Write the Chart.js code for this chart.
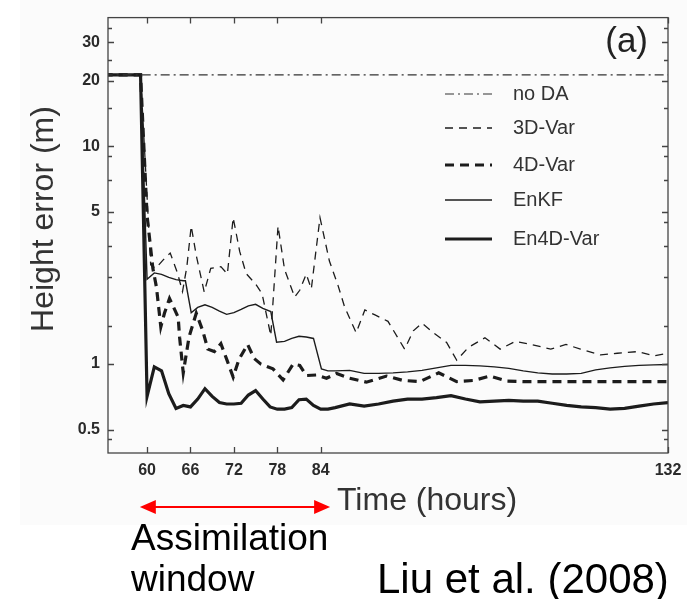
<!DOCTYPE html>
<html>
<head>
<meta charset="utf-8">
<script src="https://cdn.jsdelivr.net/npm/chart.js@4.4.0/dist/chart.umd.min.js"></script>
<style>
html, body { margin: 0; padding: 0; background: #fff; }
canvas { display: block; }
</style>
</head>
<body>
<canvas id="chartHeightError" width="695" height="599"></canvas>
<script>
// series names, in legend order
var seriesNames = ["no DA", "3D-Var", "4D-Var", "EnKF", "En4D-Var"];

// axis ticks
var xTicks = [60, 66, 72, 78, 84, 132];
var yTicks = [0.5, 1, 5, 10, 20, 30];
var yMinorTicks = [0.45, 1.5, 2.5, 3.5, 4.5, 7, 9, 15, 25, 35];

// height error (m) against forecast time (hours)
var noDAHours = [54, 132];
var noDAErr   = [21.3, 21.3];

var var3dHours = [54, 59.1, 60.5, 61.2, 62.2, 63.2, 64.2, 64.9, 65.5, 66.1, 66.8, 67.9, 68.8, 70.2, 71.1, 71.9, 72.8, 73.7,
	75, 75.9, 77.1, 78.1, 79, 80.4, 81.1, 82, 82.7, 83.9, 85.2, 86.4, 87.3, 88.9, 90.1, 91.5, 93.3, 95.6, 96.8, 98, 99.6,
	101.4, 102.8, 104.4, 106.7, 108.8, 110.9, 113, 115.8, 117.9, 119.9, 122.7, 125, 127.8, 130.1, 132];
var var3dErr   = [21.3, 21.3, 2.85, 2.75, 3.0, 3.23, 2.62, 2.15, 2.8, 4.3, 3.15, 2.14, 2.75, 2.8, 2.59, 4.7, 3.29, 2.6,
	2.33, 2.1, 1.35, 4.3, 2.72, 2.03, 2.18, 2.59, 2.21, 4.7, 2.97, 2.29, 1.83, 1.39, 1.77, 1.68, 1.57, 1.17, 1.42, 1.54, 1.39,
	1.255, 1.04, 1.19, 1.32, 1.17, 1.27, 1.23, 1.17, 1.23, 1.17, 1.10, 1.12, 1.14, 1.09, 1.12];

var var4dHours = [54, 59.1, 60, 60.8, 61.3, 61.9, 62.4, 63.1, 64.3, 64.5, 65, 65.8, 66.8, 67.7, 68.4, 69.3, 70.2, 71.1, 71.9,
	72.7, 73.9, 74.8, 75.7, 77.4, 78.8, 80.2, 81.1, 82, 83.4, 84.8, 86.2, 88, 90.3, 93.1, 95.4, 97.7, 100.3, 102.8, 105.1,
	107.4, 109.7, 112, 132];
var var4dErr   = [21.3, 21.3, 4.8, 2.75, 2.25, 1.48, 1.71, 2.0, 1.64, 1.32, 0.91, 1.33, 1.71, 1.42, 1.17, 1.14, 1.24, 1.03, 0.87,
	1.05, 1.23, 1.06, 1.0, 0.95, 0.845, 1.0, 0.985, 0.885, 0.89, 0.86, 0.905, 0.86, 0.825, 0.88, 0.84, 0.83, 0.91, 0.83, 0.84,
	0.88, 0.835, 0.83, 0.83];

var enkfHours = [54, 59.1, 60, 61, 62, 63, 64, 65, 65.3, 66.1, 67, 68, 69, 70, 71, 72, 73, 74, 75, 76, 77.1, 77.9, 79, 80,
	81, 82, 83, 84.1, 85, 86, 88, 90, 92, 94, 96, 98, 100, 102, 104, 106, 108, 110, 112, 114, 116, 118, 120, 122, 124, 126,
	128, 130, 132];
var enkfErr   = [21.3, 21.3, 2.45, 2.62, 2.58, 2.5, 2.44, 2.41, 2.41, 1.72, 1.82, 1.87, 1.82, 1.75, 1.69, 1.72, 1.78, 1.85, 1.88,
	1.8, 1.74, 1.26, 1.27, 1.31, 1.34, 1.33, 1.31, 0.95, 0.93, 0.93, 0.935, 0.905, 0.905, 0.91, 0.92, 0.935, 0.96, 0.985,
	0.985, 0.98, 0.97, 0.955, 0.93, 0.91, 0.9, 0.9, 0.905, 0.94, 0.96, 0.975, 0.985, 0.99, 0.995];

var en4dHours = [54, 59.1, 60, 61, 62, 63, 64, 65, 66, 67, 68, 69, 70, 71, 72, 73, 74, 75, 76, 77, 78, 79, 80, 81, 82, 83,
	84, 85, 86, 88, 90, 92, 94, 96, 98, 100, 102, 104, 106, 108, 110, 112, 114, 116, 118, 120, 122, 124, 126, 128, 130, 132];
var en4dErr   = [21.3, 21.3, 0.71, 0.97, 0.93, 0.73, 0.625, 0.645, 0.635, 0.69, 0.77, 0.71, 0.665, 0.655, 0.655, 0.66, 0.72,
	0.755, 0.69, 0.635, 0.62, 0.62, 0.63, 0.685, 0.69, 0.645, 0.62, 0.62, 0.63, 0.655, 0.64, 0.655, 0.675, 0.69, 0.69, 0.70,
	0.715, 0.69, 0.67, 0.675, 0.68, 0.675, 0.675, 0.66, 0.645, 0.635, 0.63, 0.62, 0.625, 0.64, 0.655, 0.665];

var inkColor = "#1c1c1c";
var textColor = "#333";

function toPoints(hours, errs) {
	return hours.map(function(h, i) { return { x: h, y: errs[i] }; });
}

function makeSet(label, hours, errs, width, dash, color) {
	return {
		label: label,
		data: toPoints(hours, errs),
		borderColor: color || inkColor,
		borderWidth: width,
		borderDash: dash,
		pointRadius: 0,
		tension: 0,
		fill: false
	};
}

// inward ticks on all four sides, plot box, legend and annotations
var frame = {
	id: "frame",
	beforeDraw: function(chart) {
		var ctx = chart.ctx;
		ctx.save();
		ctx.fillStyle = "#fff";
		ctx.fillRect(0, 0, chart.width, chart.height);
		ctx.fillStyle = "#fbfbfb";
		ctx.fillRect(20, 0, 667, 525);
		ctx.restore();
	},
	afterDraw: function(chart) {
		var ctx = chart.ctx;
		var a = chart.chartArea;
		var xs = chart.scales.x, ys = chart.scales.y;
		ctx.save();

		ctx.strokeStyle = "#444";
		ctx.lineWidth = 1.3;
		ctx.strokeRect(a.left, a.top, a.right - a.left, a.bottom - a.top);

		ctx.beginPath();
		xTicks.forEach(function(v) {
			var px = Math.round(xs.getPixelForValue(v)) + 0.5;
			ctx.moveTo(px, a.bottom); ctx.lineTo(px, a.bottom - 6);
			ctx.moveTo(px, a.top); ctx.lineTo(px, a.top + 6);
		});
		yTicks.forEach(function(v) {
			var py = Math.round(ys.getPixelForValue(v)) + 0.5;
			ctx.moveTo(a.left, py); ctx.lineTo(a.left + 6, py);
			ctx.moveTo(a.right, py); ctx.lineTo(a.right - 6, py);
		});
		yMinorTicks.forEach(function(v) {
			var py = Math.round(ys.getPixelForValue(v)) + 0.5;
			ctx.moveTo(a.left, py); ctx.lineTo(a.left + 4, py);
			ctx.moveTo(a.right, py); ctx.lineTo(a.right - 4, py);
		});
		ctx.stroke();

		// legend inside the plot
		var rowY = [94, 128, 165, 200, 239];
		ctx.font = "20px 'Liberation Sans', Arial, sans-serif";
		ctx.textBaseline = "middle";
		chart.data.datasets.forEach(function(ds, i) {
			ctx.beginPath();
			ctx.strokeStyle = ds.borderColor;
			ctx.lineWidth = ds.borderWidth;
			ctx.setLineDash(ds.borderDash || []);
			ctx.moveTo(445, rowY[i]); ctx.lineTo(492, rowY[i]);
			ctx.stroke();
			ctx.setLineDash([]);
			ctx.fillStyle = textColor;
			ctx.fillText(ds.label, 513, rowY[i]);
		});

		ctx.fillStyle = "#222";
		ctx.font = "35px 'Liberation Sans', Arial, sans-serif";
		ctx.textBaseline = "alphabetic";
		ctx.textAlign = "right";
		ctx.fillText("(a)", 648, 52);

		// axis titles
		ctx.fillStyle = textColor;
		ctx.textAlign = "left";
		ctx.font = "32px 'Liberation Sans', Arial, sans-serif";
		ctx.fillText("Time (hours)", 337, 510);
		ctx.save();
		ctx.translate(53, 219);
		ctx.rotate(-Math.PI / 2);
		ctx.textAlign = "center";
		ctx.fillText("Height error (m)", 0, 0);
		ctx.restore();

		// assimilation window arrow
		var x0 = xs.getPixelForValue(59), x1 = xs.getPixelForValue(85.3), ay = 507;
		ctx.strokeStyle = "#f00";
		ctx.fillStyle = "#f00";
		ctx.lineWidth = 2;
		ctx.beginPath();
		ctx.moveTo(x0 + 10, ay); ctx.lineTo(x1 - 10, ay);
		ctx.stroke();
		ctx.beginPath();
		ctx.moveTo(x0, ay); ctx.lineTo(x0 + 16, ay - 7); ctx.lineTo(x0 + 16, ay + 7); ctx.closePath();
		ctx.moveTo(x1, ay); ctx.lineTo(x1 - 16, ay - 7); ctx.lineTo(x1 - 16, ay + 7); ctx.closePath();
		ctx.fill();

		ctx.fillStyle = "#000";
		ctx.font = "37px 'Liberation Sans', Arial, sans-serif";
		ctx.fillText("Assimilation", 131, 550);
		ctx.fillText("window", 131, 591);
		ctx.font = "42px 'Liberation Sans', Arial, sans-serif";
		ctx.fillText("Liu et al. (2008)", 377, 593);
		ctx.restore();
	}
};

function Init() {
	var tickFont = { family: "'Liberation Sans', Arial, sans-serif", size: 16, weight: "bold" };
	new Chart(document.getElementById("chartHeightError").getContext("2d"), {
		type: "line",
		data: {
			datasets: [
				makeSet(seriesNames[0], noDAHours, noDAErr, 1.2, [9, 4, 2, 4], "#333"),
				makeSet(seriesNames[1], var3dHours, var3dErr, 1.3, [8, 6]),
				makeSet(seriesNames[2], var4dHours, var4dErr, 3.2, [9, 6]),
				makeSet(seriesNames[3], enkfHours, enkfErr, 1.4, []),
				makeSet(seriesNames[4], en4dHours, en4dErr, 3.2, [])
			]
		},
		plugins: [frame],
		options: {
			responsive: false,
			animation: false,
			devicePixelRatio: 1,
			layout: { padding: { left: 0, top: 7, right: 27, bottom: 0 } },
			plugins: { legend: { display: false }, tooltip: { enabled: false } },
			scales: {
				x: {
					type: "linear",
					min: 54.6,
					max: 132,
					grid: { display: false, drawTicks: false },
					border: { display: false },
					afterBuildTicks: function(s) { s.ticks = xTicks.map(function(v) { return { value: v }; }); },
					afterFit: function(s) { s.height = 146; },
					ticks: { font: tickFont, color: "#2a2a2a", padding: 8, maxRotation: 0, autoSkip: false }
				},
				y: {
					type: "logarithmic",
					min: 0.39,
					max: 39,
					grid: { display: false, drawTicks: false },
					border: { display: false },
					afterBuildTicks: function(s) { s.ticks = yTicks.map(function(v) { return { value: v }; }); },
					afterFit: function(s) { s.width = 108; },
					ticks: {
						font: tickFont, color: "#2a2a2a", padding: 8, autoSkip: false,
						callback: function(v) { return String(v); }
					}
				}
			}
		}
	});
}

Init();
</script>
</body>
</html>
